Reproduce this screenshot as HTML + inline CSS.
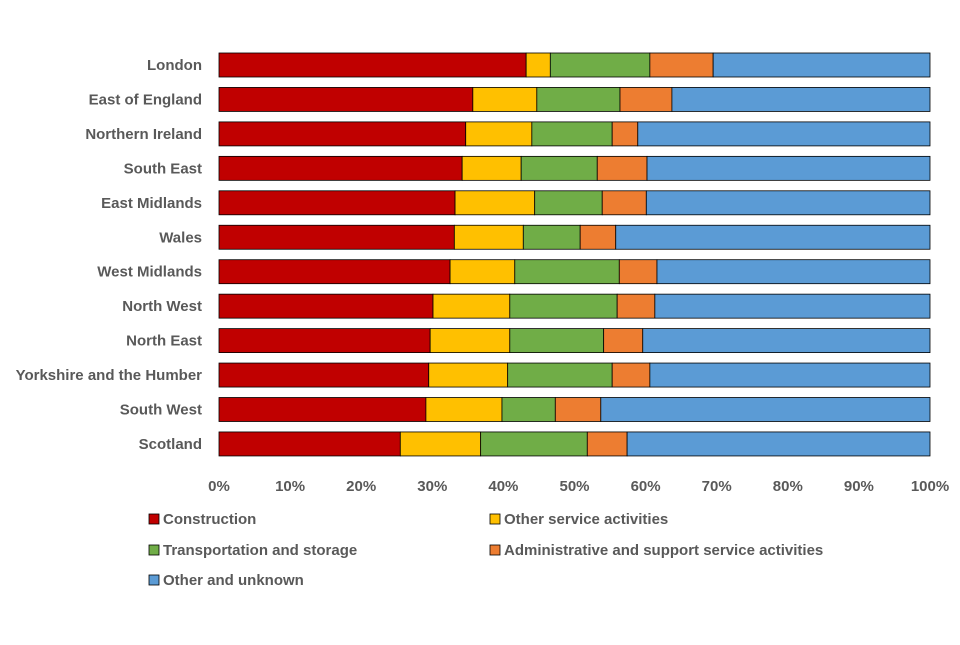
<!DOCTYPE html>
<html><head><meta charset="utf-8"><style>
body{margin:0;background:#fff;}
svg text{font-family:"Liberation Sans",sans-serif;font-weight:bold;fill:#595959;font-size:15px;}
</style></head><body>
<svg id="chart" width="960" height="640"></svg>
<script>
const regions=["London","East of England","Northern Ireland","South East","East Midlands","Wales","West Midlands","North West","North East","Yorkshire and the Humber","South West","Scotland"];
const construction=[43.2,35.7,34.7,34.2,33.2,33.1,32.5,30.1,29.7,29.5,29.1,25.5];
const otherService=[3.4,9.0,9.3,8.3,11.2,9.7,9.1,10.8,11.2,11.1,10.7,11.3];
const transport=[14.0,11.7,11.3,10.7,9.5,8.0,14.7,15.1,13.2,14.7,7.5,15.0];
const admin=[8.9,7.3,3.6,7.0,6.2,5.0,5.3,5.3,5.5,5.3,6.4,5.6];
const seriesNames=["Construction","Other service activities","Transportation and storage","Administrative and support service activities","Other and unknown"];
const seriesColors=["#C00000","#FFC000","#70AD47","#ED7D31","#5B9BD5"];
const ticks=[0,10,20,30,40,50,60,70,80,90,100];
const NS="http://www.w3.org/2000/svg";
const svg=document.getElementById("chart");
const x0=219,x1=930;
const xs=v=>x0+(x1-x0)*v/100;
const yc=i=>65+i*34.45;
const bh=24;
function el(t,a){const e=document.createElementNS(NS,t);for(const k in a)e.setAttribute(k,a[k]);svg.appendChild(e);return e;}
regions.forEach((r,i)=>{
  const vals=[construction[i],otherService[i],transport[i],admin[i]];
  const sum=vals.reduce((a,b)=>a+b,0);
  vals.push(100-sum);
  let acc=0;
  vals.forEach((v,j)=>{
    const b=el("rect",{x:xs(acc),y:yc(i)-bh/2,width:xs(acc+v)-xs(acc),height:bh,fill:seriesColors[j],stroke:"#000","stroke-width":0.8});
    
    
    acc+=v;
  });
  const t=el("text",{x:202,y:yc(i)+5,"text-anchor":"end"});
  t.textContent=r;
  
  
});
ticks.forEach(v=>{
  const t=el("text",{x:xs(v),y:491,"text-anchor":"middle"});
  t.textContent=v+"%";
  
  
});
const legPos=[[149,519],[490,519],[149,550],[490,550],[149,580]];
seriesNames.forEach((n,j)=>{
  const [lx,ly]=legPos[j];
  const r=el("rect",{x:lx,y:ly-5,width:10,height:10,fill:seriesColors[j],stroke:"#000","stroke-width":0.8});
  
  
  const t=el("text",{x:lx+14,y:ly+5});
  t.textContent=n;
  
  
});
</script>
</body></html>
